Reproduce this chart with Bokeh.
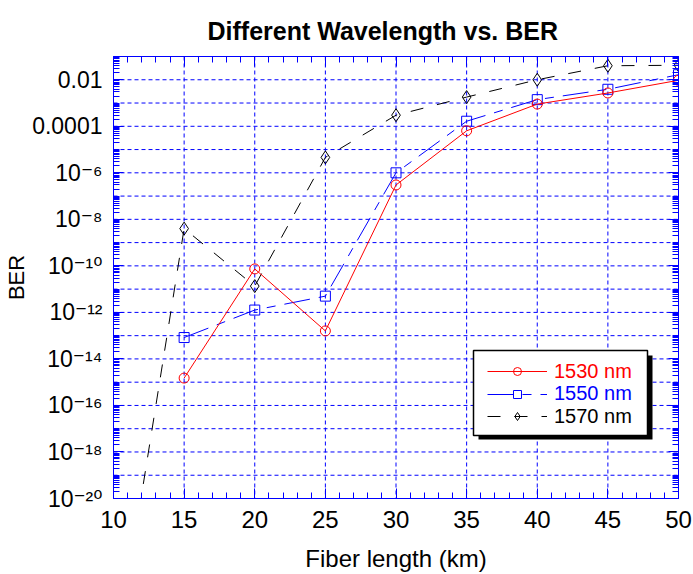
import math
from bokeh.plotting import figure
from bokeh.models import (Range1d, LinearAxis, LogAxis, FixedTicker, Legend,
                          LegendItem, BoxAnnotation, Title, Span,
                          CustomJSTickFormatter)
from bokeh.embed import file_html
from bokeh.resources import INLINE

# ---------------- data ----------------
fiber_km = [15, 20, 25, 30, 35, 40, 45, 50]
ber_1530 = [1.5e-15, 7.4e-11, 1.6e-13, 3e-7, 6.4e-5, 9e-4, 2.7e-3, 9.5e-3]
ber_1550 = [8.3e-14, 1.26e-12, 5e-12, 1e-6, 1.65e-4, 1.4e-3, 3.9e-3, 1.65e-2]
fiber_km_1570 = [10, 15, 20, 25, 30, 35, 40, 45, 50]
ber_1570 = [4e-28, 4e-9, 1.35e-11, 4.6e-6, 3e-4, 1.8e-3, 1e-2, 4e-2, 4.2e-2]

x_major_ticks = [10, 15, 20, 25, 30, 35, 40, 45, 50]
x_minor_ticks = [v for v in range(10, 51) if v % 5 != 0]
y_label_exponents = [-2, -4, -6, -8, -10, -12, -14, -16, -18, -20]
y_tick_labels = ["0.01", "0.0001", "10⁻⁶", "10⁻⁸", "10⁻¹⁰", "10⁻¹²",
                 "10⁻¹⁴", "10⁻¹⁶", "10⁻¹⁸", "10⁻²⁰"]
series_names = ["1530 nm", "1550 nm", "1570 nm"]
title_text = "Different Wavelength vs. BER"
x_title = "Fiber length (km)"
y_title = "BER"

FONT = "Liberation Sans"
TICK_FONT = "Liberation Sans, DejaVu Sans"
BLUE = "#0000ff"

y_major = [10.0 ** e for e in y_label_exponents]
y_minor = [m * 10.0 ** e for e in range(-21, -1) for m in range(1, 10)
           if not (m == 1 and e in y_label_exponents)]
y_grid = [10.0 ** e for e in range(-19, -1)]

p = figure(width=693, height=574, x_range=Range1d(10, 50),
           y_range=Range1d(1e-20, 1e-1), y_axis_type="log",
           output_backend="svg", toolbar_location=None, title=None,
           min_border_left=113, min_border_right=15, min_border_top=56,
           min_border_bottom=74, outline_line_color=BLUE,
           outline_line_width=1, background_fill_color="white",
           border_fill_color="white")

xt = FixedTicker(ticks=x_major_ticks, minor_ticks=x_minor_ticks)
yt = FixedTicker(ticks=y_major, minor_ticks=y_minor)
overrides = {10.0 ** e: lab for e, lab in zip(y_label_exponents, y_tick_labels)}


def style_axis(ax, show_labels, standoff, size="24px"):
    ax.axis_line_color = BLUE
    ax.major_tick_line_color = BLUE
    ax.minor_tick_line_color = BLUE
    ax.major_tick_in = 10
    ax.major_tick_out = 0
    ax.minor_tick_in = 6
    ax.minor_tick_out = 0
    ax.major_label_text_font = TICK_FONT
    ax.major_label_text_color = "black"
    ax.major_label_text_font_size = size
    ax.major_label_standoff = standoff
    if not show_labels:
        ax.formatter = CustomJSTickFormatter(code="return ''")
        ax.major_label_text_color = None
        ax.major_label_text_font_size = "1px"


p.xaxis.ticker = xt
p.yaxis.ticker = yt
p.yaxis.major_label_overrides = overrides
style_axis(p.xaxis[0], True, 12, "24px")
style_axis(p.yaxis[0], True, 11, "23px")

for ax, lab, so, fs in ((p.xaxis[0], x_title, 14, "24px"),
                        (p.yaxis[0], y_title, 0, "22px")):
    ax.axis_label = lab
    ax.axis_label_text_font = FONT
    ax.axis_label_text_font_size = fs
    ax.axis_label_text_font_style = "normal"
    ax.axis_label_text_color = "black"
    ax.axis_label_standoff = so

top_ax = LinearAxis(ticker=xt)
style_axis(top_ax, False, 0)
p.add_layout(top_ax, "above")
right_ax = LogAxis(ticker=yt)
style_axis(right_ax, False, 0)
p.add_layout(right_ax, "right")

p.add_layout(Title(text=title_text, align="left", offset=94,
                   vertical_align="top",
                   text_font=FONT, text_font_size="25px",
                   text_font_style="bold", text_color="black",
                   standoff=20), "above")

# grid lines (dashed blue)
p.xgrid.visible = False
p.ygrid.visible = False
for gx in x_major_ticks[1:-1]:
    p.add_layout(Span(location=gx, dimension="height", line_color=BLUE,
                      line_dash="4 3", line_width=1, level="underlay"))
for gy in y_grid:
    p.add_layout(Span(location=gy, dimension="width", line_color=BLUE,
                      line_dash="4 3", line_width=1, level="underlay"))

# ---------------- series ----------------
r3l = p.line(fiber_km_1570, ber_1570, line_color="black", line_width=1,
             line_dash="13 14")
r3m = p.scatter(fiber_km_1570, ber_1570, marker="diamond", size=13,
                line_color="black", fill_alpha=0, line_width=1)
r2l = p.line(fiber_km, ber_1550, line_color=BLUE, line_width=1,
             line_dash="26 9 9 9")
r2m = p.scatter(fiber_km, ber_1550, marker="square", size=10,
                line_color=BLUE, fill_alpha=0, line_width=1)
r1l = p.line(fiber_km, ber_1530, line_color="red", line_width=1)
r1m = p.scatter(fiber_km, ber_1530, marker="circle", size=10,
                line_color="red", fill_alpha=0, line_width=1)

# ---------------- legend ----------------
shadow = BoxAnnotation(left=365, right=539, top=143, bottom=59,
                       left_units="screen", right_units="screen",
                       top_units="screen", bottom_units="screen",
                       fill_color="black", fill_alpha=1, line_alpha=0)
box = BoxAnnotation(left=360, right=534, top=148, bottom=63,
                    left_units="screen", right_units="screen",
                    top_units="screen", bottom_units="screen",
                    fill_color="white", fill_alpha=1, line_color="black",
                    line_width=1.5, line_alpha=1)
p.add_layout(shadow)
p.add_layout(box)

rows = [(series_names[0], [r1l, r1m], "red", 127),
        (series_names[1], [r2l, r2m], BLUE, 104.5),
        (series_names[2], [r3l, r3m], "black", 82)]
for name, rends, col, cy in rows:
    lg = Legend(items=[LegendItem(label=name, renderers=rends)],
                location=(374, cy - 11.5), padding=0, margin=0, spacing=0,
                glyph_width=60, glyph_height=20, label_height=20,
                label_standoff=7, label_text_font=FONT,
                label_text_font_size="20px", label_text_color=col,
                border_line_alpha=0, background_fill_alpha=0)
    p.add_layout(lg, "center")

open("out.html", "w").write(file_html(p, INLINE))
